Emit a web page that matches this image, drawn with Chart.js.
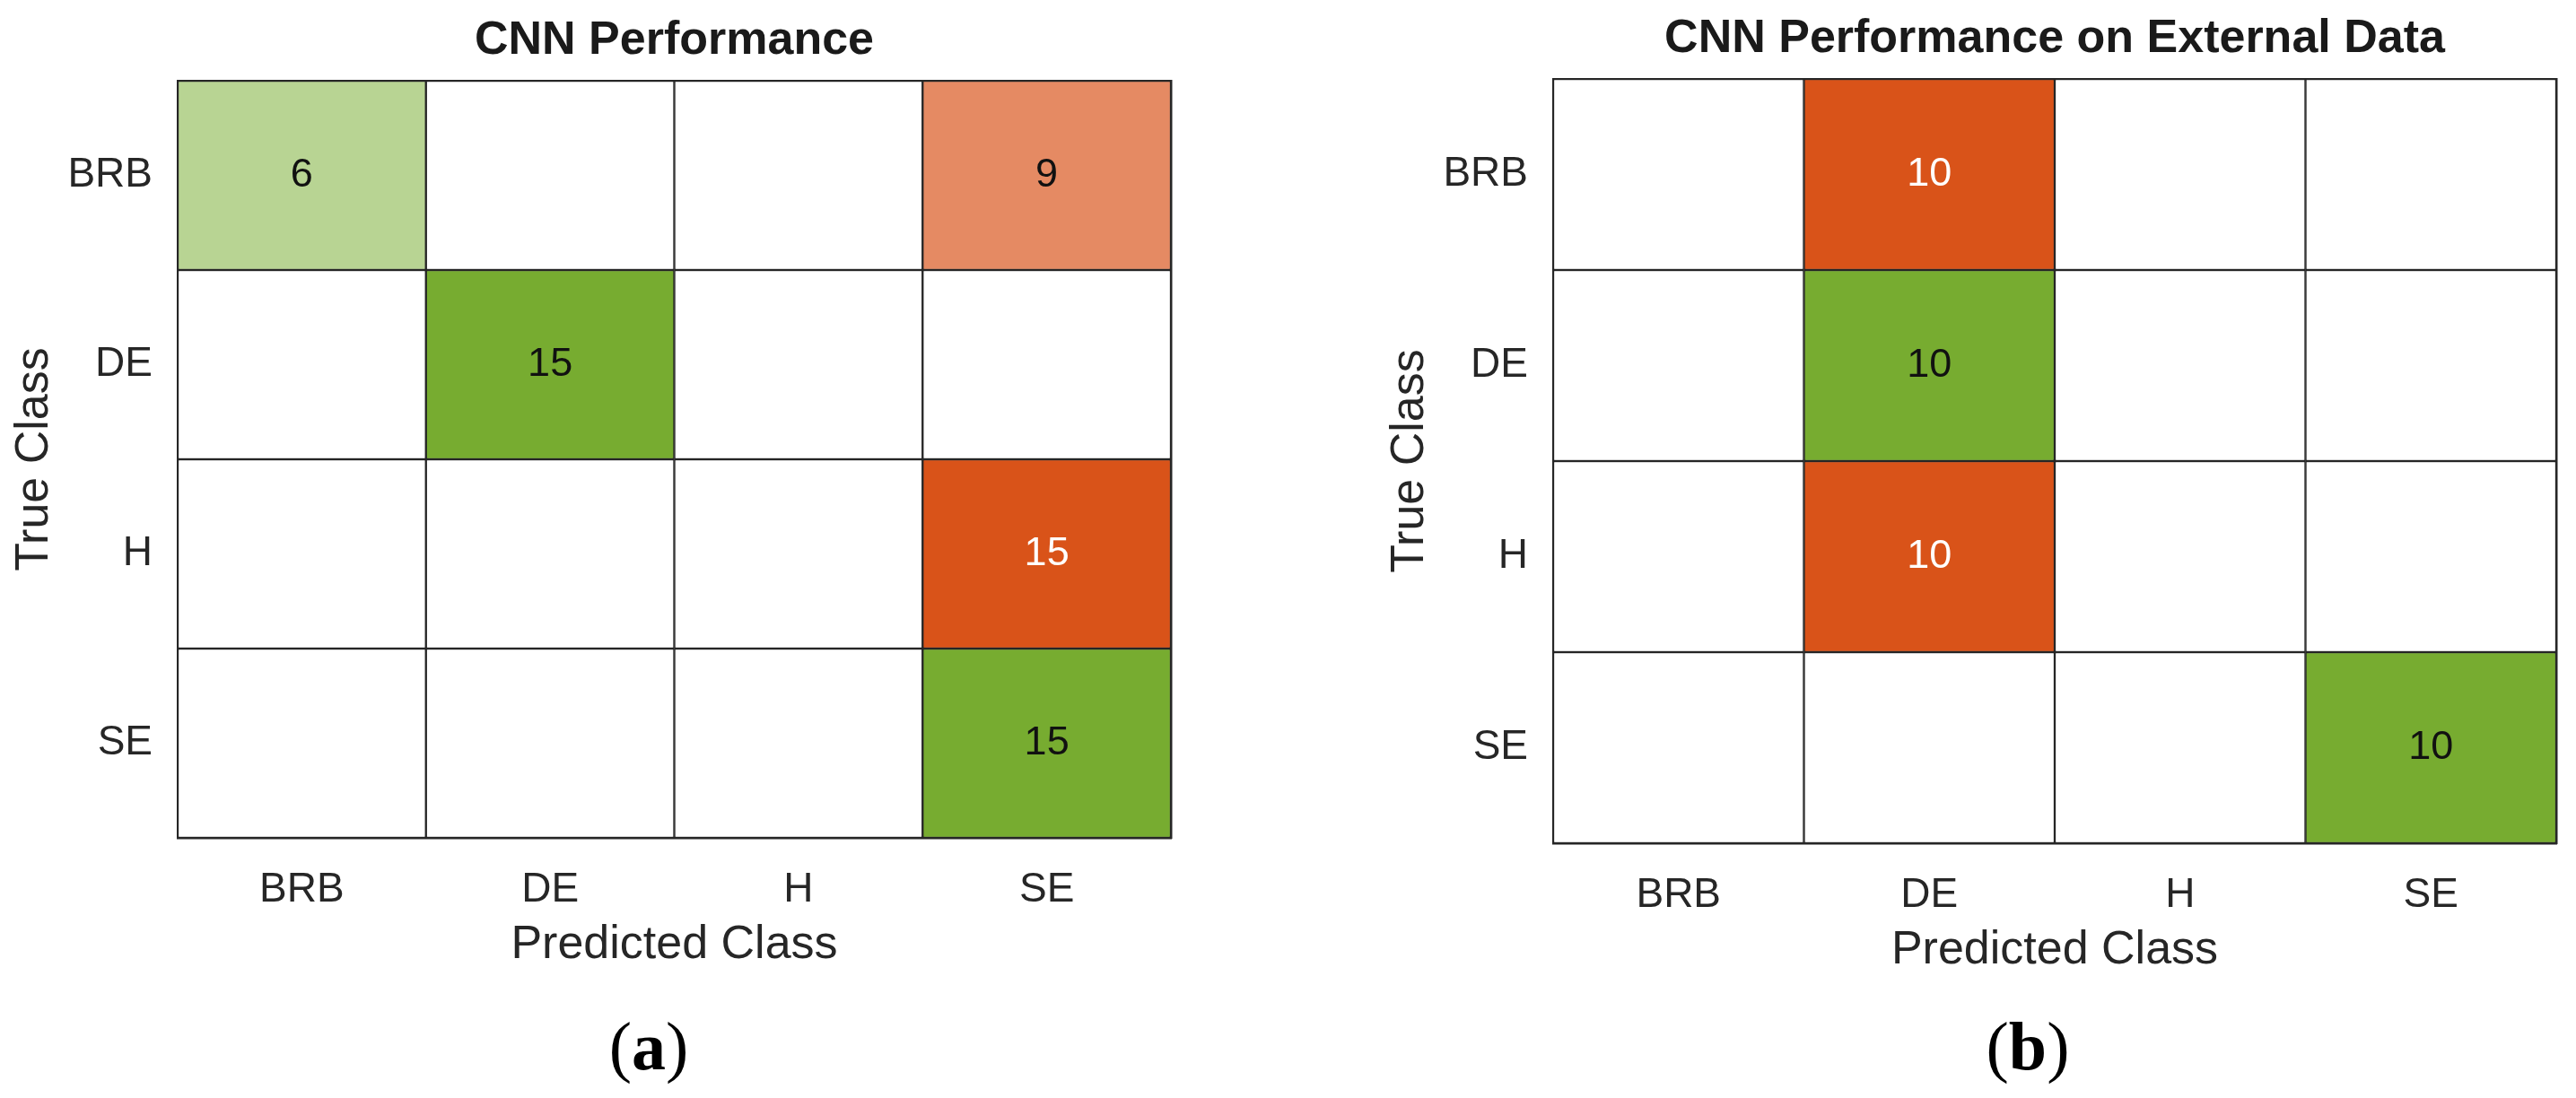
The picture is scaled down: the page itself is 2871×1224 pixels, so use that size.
<!DOCTYPE html>
<html>
<head>
<meta charset="utf-8">
<title>CNN confusion matrices</title>
<script src="https://cdn.jsdelivr.net/npm/chart.js@4.4.1/dist/chart.umd.min.js"></script>
<style>
    html, body { margin: 0; padding: 0; background: #fff; }
    body { width: 2871px; height: 1224px; position: relative; overflow: hidden; }
    canvas { position: absolute; top: 0; }
    #chartA { left: 0; width: 1435px; height: 1084px; }
    #chartB { left: 1435px; width: 1436px; height: 1090px; }
    .panel-label {
        position: absolute; top: 1128px; width: 400px; text-align: center;
        font-family: 'Liberation Serif', 'Times New Roman', serif;
        font-size: 76px; line-height: 76px; color: #000;
    }
</style>
</head>
<body>
<canvas id="chartA" width="1435" height="1084"></canvas>
<canvas id="chartB" width="1436" height="1090"></canvas>
<div class="panel-label" style="left:523px">(<b>a</b>)</div>
<div class="panel-label" style="left:2060px">(<b>b</b>)</div>
<script>
// Classes (same order on both axes)
const predictedClasses = ['BRB', 'DE', 'H', 'SE'];
const trueClasses = ['BRB', 'DE', 'H', 'SE'];

// Counts, one row per true class
const countsInternal = [
    [6, 0, 0, 9],
    [0, 15, 0, 0],
    [0, 0, 0, 15],
    [0, 0, 0, 15]
];
const countsExternal = [
    [0, 10, 0, 0],
    [0, 10, 0, 0],
    [0, 10, 0, 0],
    [0, 0, 0, 10]
];

const titleInternal = 'CNN Performance';
const titleExternal = 'CNN Performance on External Data';
const xTitle = 'Predicted Class';
const yTitle = 'True Class';

// Estilo
const fontFamily = "'Liberation Sans', Arial, Helvetica, sans-serif";
const gridColor = '#262626';
const textColor = '#262626';
const correctRgb = [119, 172, 48];   // verde
const wrongRgb = [217, 83, 25];      // laranja

function shade(rgb, v, max) {
    if (!v) return [255, 255, 255];
    const t = 0.2 + 0.8 * v / max;
    return rgb.map(c => Math.round(255 - t * (255 - c)));
}

function toCss(rgb) {
    return 'rgb(' + rgb.join(',') + ')';
}

function isDark(rgb) {
    return 0.299 * rgb[0] + 0.587 * rgb[1] + 0.114 * rgb[2] < 130;
}

// Escreve o valor no centro de cada célula
const cellLabels = {
    id: 'cellLabels',
    afterDatasetsDraw(chart) {
        const ctx = chart.ctx;
        ctx.save();
        ctx.font = '45px ' + fontFamily;
        ctx.textAlign = 'center';
        ctx.textBaseline = 'middle';
        chart.data.datasets.forEach((ds, i) => {
            chart.getDatasetMeta(i).data.forEach((bar, j) => {
                const v = ds.counts[j];
                if (!v) return;
                ctx.fillStyle = ds.textColors[j];
                ctx.fillText(String(v), bar.x, (bar.y + bar.base) / 2);
            });
        });
        ctx.restore();
    }
};

function buildChart(canvasId, counts, title, box) {
    const maxCount = Math.max(...counts.flat());

    const datasets = trueClasses.map((rowName, r) => {
        const fills = counts[r].map((v, c) => shade(r === c ? correctRgb : wrongRgb, v, maxCount));
        return {
            label: rowName,
            data: predictedClasses.map(() => [r, r + 1]),
            counts: counts[r],
            backgroundColor: fills.map(toCss),
            textColors: fills.map(f => isDark(f) ? '#ffffff' : '#111111'),
            borderColor: gridColor,
            borderWidth: 1.5,
            borderSkipped: false,
            grouped: false,
            barPercentage: 1,
            categoryPercentage: 1
        };
    });

    const frame = { display: true, color: gridColor, width: 2.5 };

    return new Chart(document.getElementById(canvasId), {
        type: 'bar',
        data: { labels: predictedClasses, datasets: datasets },
        options: {
            responsive: false,
            animation: false,
            events: [],
            layout: { padding: { left: box.left, right: box.right, top: 0, bottom: 0 } },
            plugins: {
                legend: { display: false },
                tooltip: { enabled: false },
                title: {
                    display: true,
                    text: title,
                    fullSize: false,
                    color: '#1a1a1a',
                    font: { family: fontFamily, size: 52, weight: 'bold', lineHeight: 1 },
                    padding: { top: box.titleTop, bottom: box.titleBottom }
                }
            },
            scales: {
                x: {
                    type: 'category',
                    position: 'bottom',
                    grid: { display: false },
                    border: frame,
                    ticks: {
                        color: textColor,
                        font: { family: fontFamily, size: 46, lineHeight: 1 },
                        padding: 27
                    },
                    title: {
                        display: true,
                        text: xTitle,
                        color: textColor,
                        font: { family: fontFamily, size: 52, lineHeight: 1 },
                        padding: { top: 0, bottom: 4 }
                    },
                    afterFit: s => { s.height = 150; }
                },
                y: {
                    type: 'linear',
                    min: 0,
                    max: trueClasses.length,
                    reverse: true,
                    grid: { display: false },
                    border: frame,
                    afterBuildTicks: s => {
                        s.ticks = trueClasses.map((_, i) => ({ value: i + 0.5 }));
                    },
                    ticks: {
                        color: textColor,
                        font: { family: fontFamily, size: 46, lineHeight: 1 },
                        padding: 20,
                        callback: v => trueClasses[Math.floor(v)]
                    },
                    title: {
                        display: true,
                        text: yTitle,
                        color: textColor,
                        font: { family: fontFamily, size: 52, lineHeight: 1 },
                        padding: { top: 13, bottom: 0 }
                    },
                    afterFit: s => { s.width = 198; }
                },
                x2: {
                    type: 'category',
                    position: 'top',
                    grid: { display: false },
                    ticks: { display: false },
                    border: frame,
                    afterFit: s => { s.height = 0; }
                },
                y2: {
                    type: 'linear',
                    position: 'right',
                    min: 0,
                    max: trueClasses.length,
                    grid: { display: false },
                    ticks: { display: false },
                    border: frame,
                    afterFit: s => { s.width = 0; }
                }
            }
        },
        plugins: [cellLabels]
    });
}

buildChart('chartA', countsInternal, titleInternal,
    { left: 0, right: 130, titleTop: 20, titleBottom: 18 });
buildChart('chartB', countsExternal, titleExternal,
    { left: 98, right: 22, titleTop: 18, titleBottom: 18 });
</script>
</body>
</html>
